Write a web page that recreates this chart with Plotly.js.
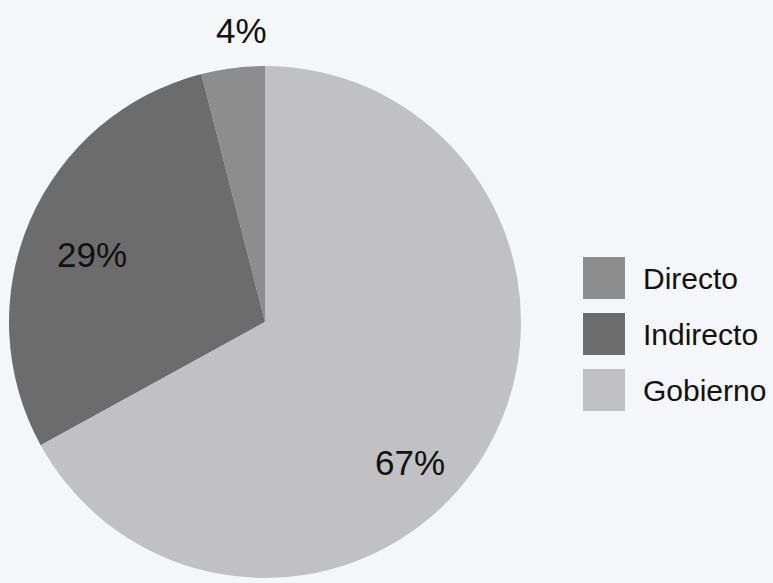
<!DOCTYPE html>
<html>
<head>
<meta charset="utf-8">
<script src="https://cdn.plot.ly/plotly-3.0.1.min.js"></script>
<style>
html,body{margin:0;padding:0;background:#f4f6fa;}
#chart{width:773px;height:583px;}
</style>
</head>
<body>
<div id="chart"></div>
<script>
// Data
const labels = ['Directo', 'Indirecto', 'Gobierno'];
const values = [4, 29, 67];
const colors = ['#8d8d8d', '#6c6c6c', '#c1c1c3'];

const W = 773, H = 583;
const px = x => x / W;
const py = y => 1 - y / H;

const FONT = 'Liberation Sans, Arial, sans-serif';
const total = values.reduce((a, b) => a + b, 0);

const trace = {
  type: 'pie',
  labels: labels,
  values: values,
  sort: false,
  direction: 'counterclockwise',
  // make the first slice start at 12 o'clock and run counterclockwise
  rotation: -values[0] / total * 360,
  marker: {colors: colors, line: {width: 0}},
  textinfo: 'none',
  hoverinfo: 'label+percent',
  showlegend: false,
  automargin: false,
  domain: {x: [px(9), px(521)], y: [py(579), py(65)]}
};

// Percentage label placement (layout, in pixels of the page), as in the original
const labelPlacement = [[241, 30], [92, 254], [410, 462]];

const shapes = [];
const annotations = [];
values.forEach((v, i) => {
  annotations.push({
    xref: 'paper', yref: 'paper',
    x: px(labelPlacement[i][0]), y: py(labelPlacement[i][1]),
    xanchor: 'center', yanchor: 'middle',
    text: Math.round(v / total * 100) + '%', showarrow: false,
    font: {family: FONT, size: 35, color: '#111111'}
  });
});

// Custom legend built from labels / colors
const sq = 42, gap = 56, legTop = 257, legLeft = 583;
labels.forEach((lab, i) => {
  const top = legTop + i * gap;
  shapes.push({
    type: 'rect', xref: 'paper', yref: 'paper',
    x0: px(legLeft), x1: px(legLeft + sq),
    y0: py(top + sq), y1: py(top),
    fillcolor: colors[i], line: {width: 0}
  });
  annotations.push({
    xref: 'paper', yref: 'paper',
    x: px(legLeft + sq + 16), y: py(top + sq / 2),
    xanchor: 'left', yanchor: 'middle',
    text: lab, showarrow: false,
    font: {family: FONT, size: 30, color: '#111111'}
  });
});

const layout = {
  width: W, height: H,
  margin: {l: 0, r: 0, t: 0, b: 0},
  paper_bgcolor: '#f4f6fa',
  plot_bgcolor: '#f4f6fa',
  showlegend: false,
  shapes: shapes,
  annotations: annotations
};

Plotly.newPlot('chart', [trace], layout, {displayModeBar: false, staticPlot: true});
</script>
</body>
</html>
